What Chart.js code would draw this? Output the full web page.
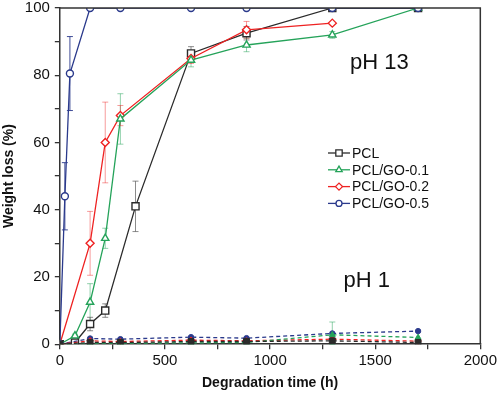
<!DOCTYPE html>
<html>
<head>
<meta charset="utf-8">
<script src="https://cdn.jsdelivr.net/npm/chart.js@4.4.1/dist/chart.umd.min.js"></script>
<style>
  body { margin: 0; background: #fff; }
  canvas { display: block; }
</style>
</head>
<body>
<canvas id="chart" width="500" height="395"></canvas>
<script>
// pH 13 series
const names = ['PCL', 'PCL/GO-0.1', 'PCL/GO-0.2', 'PCL/GO-0.5'];

const pclHours = [0, 72, 144, 216, 360, 624, 888, 1296, 1704];
const pclLoss  = [0, 0.5, 6, 10, 41, 86.5, 92.5, 100, 100];
const pclErr   = [0, 0.5, 2, 2, 7.5, 2, 2, 0, 0];

const go1Hours = [0, 72, 144, 216, 288, 624, 888, 1296, 1704];
const go1Loss  = [0, 2.5, 12.5, 31.5, 67, 84.5, 89, 92, 100];
const go1Err   = [0, 0.5, 5.5, 3, 7.5, 2, 2, 1, 0];

const go2Hours = [0, 144, 216, 288, 624, 888, 1296];
const go2Loss  = [0, 30, 60, 68, 85, 93.5, 95.5];
const go2Err   = [0, 9.5, 12, 3, 1.5, 2.5, 0];

const go5Hours = [0, 24, 48, 144, 288, 624, 888, 1296, 1704];
const go5Loss  = [0, 44, 80.5, 100, 100, 100, 100, 100, 100];
const go5Err   = [0, 10, 11, 0, 0, 0, 0, 0, 0];

// pH 1 series
const acidHours = [0, 144, 288, 624, 888, 1296, 1704];
const pclAcid = [0, 0.5, 0.5, 0.8, 0.8, 1.0, 0.5];
const go1Acid = [0, 0.2, 0.3, 0.4, 0.5, 2.8, 2.0];
const go1AcidErr = [0, 0, 0, 0, 0, 3.8, 0];
const go2Acid = [0, 1.0, 0.8, 1.2, 1.0, 1.5, 0.9];
const go5Acid = [0, 1.7, 1.5, 2.1, 1.8, 3.2, 3.9];

const xTicks = [0, 500, 1000, 1500, 2000];
const yTicks = [0, 20, 40, 60, 80, 100];
const labels13 = 'pH 13';
const labels1 = 'pH 1';

const colors = ['#2b2b2b', '#25a35a', '#ee2222', '#2b3a8c'];
const errColors = ['rgba(90,90,90,0.7)', 'rgba(37,163,90,0.5)', 'rgba(238,34,34,0.45)', 'rgba(43,58,140,0.9)'];
const shapes = ['rect', 'triangle', 'rectRot', 'circle'];
const radii = [5, 4.2, 4, 3.5];

function pts(xs, ys) { return xs.map((x, i) => ({ x: x, y: ys[i] })); }

function acidSet(i, xs, ys, err) {
  return {
    label: names[i] + ' pH 1', data: pts(xs, ys), errors: err, acid: true, idx: i,
    borderColor: colors[i], backgroundColor: colors[i], pointBackgroundColor: colors[i],
    borderDash: [4, 3], borderWidth: 1.3, pointStyle: shapes[i], pointRadius: radii[i] - 0.8,
    pointBorderWidth: 1
  };
}
function baseSet(i, xs, ys, err) {
  return {
    label: names[i], data: pts(xs, ys), errors: err, idx: i,
    borderColor: colors[i], backgroundColor: '#fff', pointBackgroundColor: '#fff',
    borderWidth: 1.3, pointStyle: shapes[i], pointRadius: radii[i], pointBorderWidth: 1.4
  };
}

const datasets = [
  acidSet(0, acidHours, pclAcid),
  acidSet(1, acidHours, go1Acid, go1AcidErr),
  acidSet(2, acidHours, go2Acid),
  acidSet(3, acidHours, go5Acid),
  baseSet(3, go5Hours, go5Loss, go5Err),
  baseSet(1, go1Hours, go1Loss, go1Err),
  baseSet(2, go2Hours, go2Loss, go2Err),
  baseSet(0, pclHours, pclLoss, pclErr)
];

// error bars, drawn before the markers
const errorBars = {
  id: 'errorBars',
  beforeDatasetsDraw(chart) {
    const ctx = chart.ctx, xs = chart.scales.x, ys = chart.scales.y;
    ctx.save();
    ctx.lineWidth = 1;
    chart.data.datasets.forEach(ds => {
      if (!ds.errors) return;
      ctx.strokeStyle = errColors[ds.idx];
      ds.data.forEach((p, i) => {
        const e = ds.errors[i];
        if (!e) return;
        const px = xs.getPixelForValue(p.x);
        const top = ys.getPixelForValue(Math.min(p.y + e, 100));
        const bot = ys.getPixelForValue(Math.max(p.y - e, 0));
        ctx.beginPath();
        ctx.moveTo(px, top); ctx.lineTo(px, bot);
        ctx.moveTo(px - 3, top); ctx.lineTo(px + 3, top);
        ctx.moveTo(px - 3, bot); ctx.lineTo(px + 3, bot);
        ctx.stroke();
      });
    });
    ctx.restore();
  }
};

// box frame, labels and legend
const extras = {
  id: 'extras',
  afterDraw(chart) {
    const ctx = chart.ctx, a = chart.chartArea, xs = chart.scales.x, ys = chart.scales.y;
    ctx.save();
    ctx.strokeStyle = '#333';
    ctx.lineWidth = 1.5;
    ctx.beginPath();
    ctx.moveTo(a.left, a.top); ctx.lineTo(a.right, a.top); ctx.lineTo(a.right, a.bottom);
    ctx.stroke();

    ctx.fillStyle = '#111';
    ctx.font = '22px "Liberation Sans", Arial, sans-serif';
    ctx.textAlign = 'center';
    ctx.textBaseline = 'middle';
    ctx.fillText(labels13, xs.getPixelForValue(1520), ys.getPixelForValue(83.6));
    ctx.fillText(labels1, xs.getPixelForValue(1460), ys.getPixelForValue(18.8));

    // legend
    const lx = 328, ly = 153, step = 16.8;
    ctx.font = '14px "Liberation Sans", Arial, sans-serif';
    ctx.textAlign = 'left';
    names.forEach((n, i) => {
      const y = ly + i * step;
      ctx.strokeStyle = colors[i];
      ctx.lineWidth = 1.3;
      ctx.beginPath(); ctx.moveTo(lx, y); ctx.lineTo(lx + 22, y); ctx.stroke();
      ctx.fillStyle = '#fff';
      ctx.lineWidth = 1.3;
      Chart.helpers.drawPoint(ctx, { pointStyle: shapes[i], radius: radii[i] - 0.5, rotation: 0, borderWidth: 1.3 }, lx + 11, y);
      ctx.fillStyle = '#111';
      ctx.fillText(n, lx + 24, y + 1);
    });
    ctx.restore();
  }
};

new Chart(document.getElementById('chart'), {
  type: 'line',
  data: { datasets: datasets },
  plugins: [errorBars, extras],
  options: {
    responsive: false,
    animation: false,
    layout: { padding: { top: 8, right: 4, left: 1, bottom: 3 } },
    plugins: { legend: { display: false }, tooltip: { enabled: false } },
    elements: { line: { tension: 0 } },
    scales: {
      x: {
        type: 'linear', min: 0, max: 2000,
        border: { color: '#333', width: 1.5 },
        grid: { drawOnChartArea: false, color: '#333', tickLength: 5, lineWidth: 1.3 },
        ticks: {
          stepSize: 250, autoSkip: false, maxRotation: 0, color: '#111', padding: 3,
          font: { size: 15, family: '"Liberation Sans", Arial, sans-serif' },
          callback: v => xTicks.includes(v) ? String(v) : ''
        },
        title: {
          display: true, text: 'Degradation time (h)', color: '#111', padding: { top: 2, bottom: 0 },
          font: { size: 14, weight: 'bold', family: '"Liberation Sans", Arial, sans-serif' }
        }
      },
      y: {
        min: 0, max: 100,
        afterFit: s => { s.paddingTop = 0; },
        border: { color: '#333', width: 1.5 },
        grid: { drawOnChartArea: false, color: '#333', tickLength: 5, lineWidth: 1.3 },
        ticks: {
          stepSize: 10, autoSkip: false, color: '#111', padding: 5,
          font: { size: 15, family: '"Liberation Sans", Arial, sans-serif' },
          callback: v => yTicks.includes(v) ? String(v) : ''
        },
        title: {
          display: true, text: 'Weight loss (%)', color: '#111', padding: { top: 0, bottom: 2 },
          font: { size: 14, weight: 'bold', family: '"Liberation Sans", Arial, sans-serif' }
        }
      }
    }
  }
});
</script>
</body>
</html>
